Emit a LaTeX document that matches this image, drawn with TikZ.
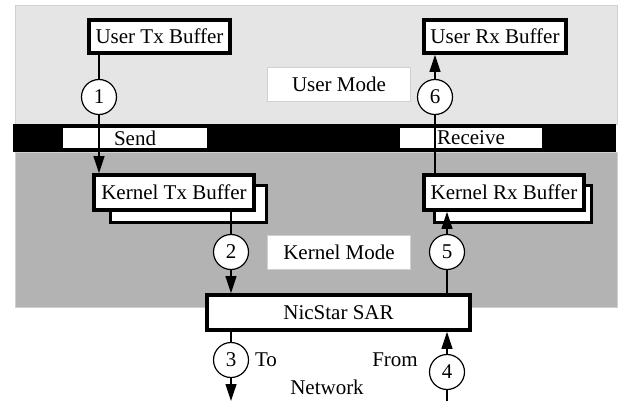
\documentclass[tikz,border=0pt]{standalone}
\usepackage{fontspec}
\setmainfont{Liberation Serif}
\usetikzlibrary{arrows.meta,positioning,calc}

\definecolor{usergray}{HTML}{E5E5E5}
\definecolor{kernelgray}{HTML}{B3B3B3}
\definecolor{edgegray}{HTML}{D0D0D0}

\tikzset{
  buf/.style={draw=black, fill=white, line width=3.8pt, inner sep=0pt,
              font=\fontsize{21}{25}\selectfont},
  shadowbox/.style={draw=black, fill=white, line width=3pt},
  modelabel/.style={draw=edgegray, fill=white, line width=1pt, inner sep=0pt,
              minimum width=143pt, minimum height=34pt,
              font=\fontsize{21}{25}\selectfont},
  step num/.style={circle, draw=black, fill=white, line width=1.2pt,
              minimum size=35pt, inner sep=0pt,
              font=\fontsize{21}{25}\selectfont},
  conn/.style={draw=black, line width=1.2pt},
  arr/.style={conn, -{Triangle[length=17pt,width=11pt]}},
  plain text/.style={inner sep=0pt, font=\fontsize{21}{25}\selectfont},
}

\begin{document}
\begin{tikzpicture}[x=1pt,y=-1pt]
  \useasboundingbox (0,0) rectangle (623,401);

  % user and kernel regions
  \fill[usergray] (15,6) rectangle (617,124);
  \draw[edgegray, line width=1pt] (15,6) rectangle (617,124);
  \fill[kernelgray] (15,152) rectangle (617,307);
  \draw[edgegray, line width=1pt] (15,152) rectangle (617,307);

  % boundary bar with its labels
  \fill[black] (13,124) rectangle (616,152);
  \node[fill=white, inner sep=0pt, minimum width=144pt, minimum height=20pt,
        font=\fontsize{21}{25}\selectfont] (send) at (135,138) {Send};
  \node[fill=white, inner sep=0pt, minimum width=142pt, minimum height=20pt,
        font=\fontsize{21}{25}\selectfont] (recv) at (471,138) {Receive};

  % mode labels
  \node[modelabel] (umode) at (339,84.5) {User Mode};
  \node[modelabel] (kmode) at (339,252.5) {Kernel Mode};

  % user buffers
  \node[buf, minimum width=141pt, minimum height=33pt] (utx) at (159.5,36.5) {User Tx Buffer};
  \node[buf, minimum width=142pt, minimum height=33pt] (urx) at (495,36.5) {User Rx Buffer};

  % kernel buffers with their back copies
  \draw[shadowbox] (110.5,185.5) rectangle (266.5,222.5);
  \draw[shadowbox] (434.5,185.5) rectangle (591.5,222.5);
  \node[buf, minimum width=160pt, minimum height=35pt] (ktx) at (174,192.5) {Kernel Tx Buffer};
  \node[buf, minimum width=160pt, minimum height=35pt] (krx) at (504,192.5) {Kernel Rx Buffer};

  % adapter
  \node[buf, minimum width=263pt, minimum height=35pt] (sar) at (338.5,312.5) {NicStar SAR};

  % step markers (placed first, drawn over the lines below)
  \path (99,97) coordinate (p1);
  \path (231,252) coordinate (p2);
  \path (231,360) coordinate (p3);
  \path (447,372) coordinate (p4);
  \path (447,252) coordinate (p5);
  \path (435,97) coordinate (p6);
  \coordinate (netout) at (231,401);
  \coordinate (netin) at (447,401);

  % connectors
  \draw[conn] (utx.south -| p1) -- (p1);
  \draw[arr] (p1) -- (ktx.north -| p1);
  \draw[conn] (ktx.south -| p2) -- (p2);
  \draw[arr] (p2) -- (sar.north -| p2);
  \draw[conn] (sar.south -| p3) -- (p3);
  \draw[arr] (p3) -- (netout);
  \draw[conn] (netin) -- (p4);
  \draw[arr] (p4) -- (sar.south -| p4);
  \draw[conn] (sar.north -| p5) -- (p5);
  \draw[arr] (p5) -- (krx.south -| p5);
  \draw[conn] (krx.north -| p6) -- (p6);
  \draw[arr] (p6) -- (urx.south -| p6);

  \node[step num] (c1) at (p1) {1};
  \node[step num] (c2) at (p2) {2};
  \node[step num] (c3) at (p3) {3};
  \node[step num] (c4) at (p4) {4};
  \node[step num] (c5) at (p5) {5};
  \node[step num] (c6) at (p6) {6};

  % network labels
  \node[plain text] (to) at (266,360) {To};
  \node[plain text] (from) at (395,360) {From};
  \node[plain text] (net) at (327,387) {Network};
\end{tikzpicture}
\end{document}
